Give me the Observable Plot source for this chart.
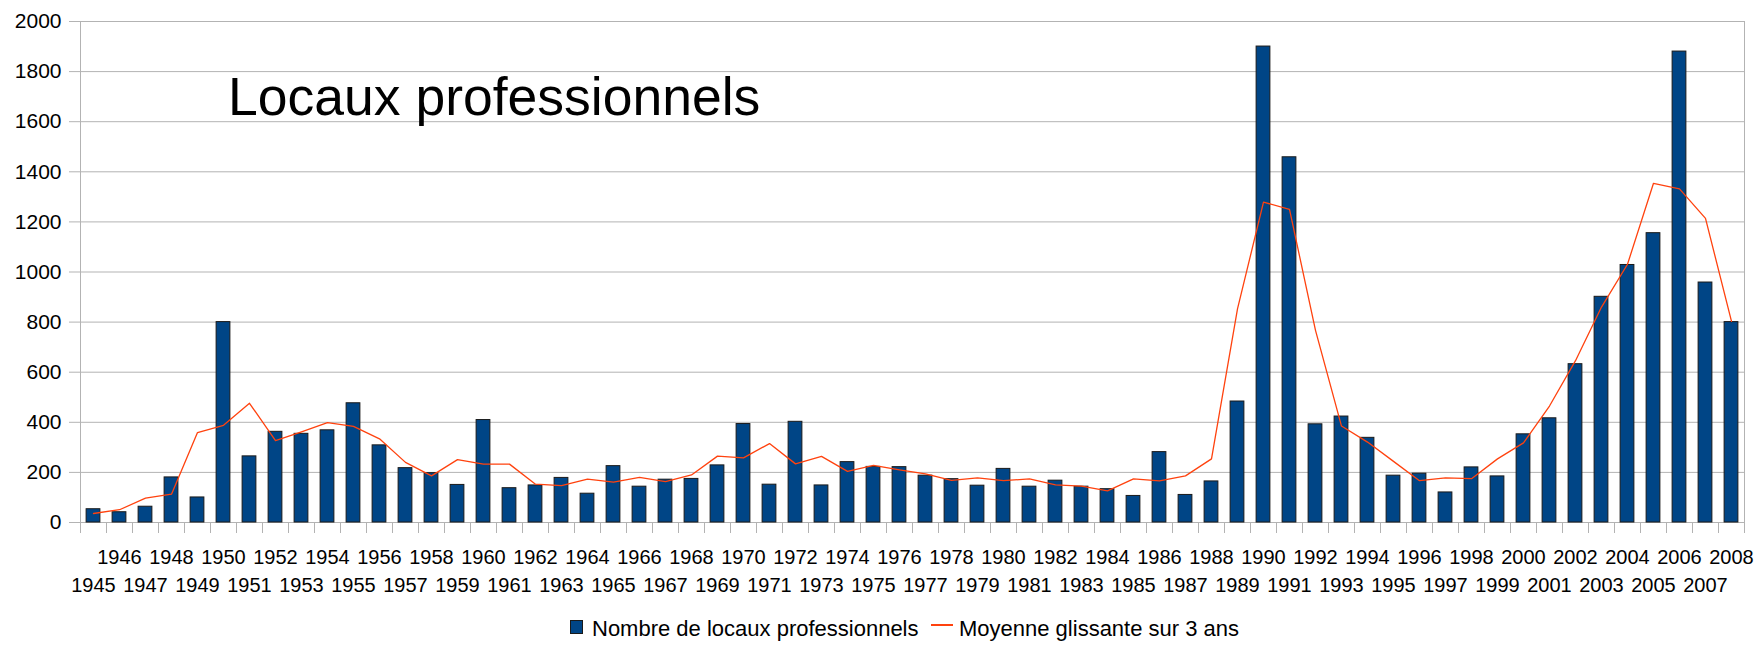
<!DOCTYPE html>
<html>
<head>
<meta charset="utf-8">
<script src="https://cdn.jsdelivr.net/npm/d3@7"></script>
<script src="https://cdn.jsdelivr.net/npm/@observablehq/plot@0.6"></script>
<style>
  html, body { margin: 0; padding: 0; background: #fff; }
  body { width: 1758px; height: 645px; position: relative; overflow: hidden; font-family: "Liberation Sans", Arial, sans-serif; }
  #chart { position: absolute; left: 0; top: 0; }
  #title { position: absolute; left: 228px; top: 70px; font-size: 53.5px; line-height: 53.5px; color: #000; white-space: nowrap; }
  #legend { position: absolute; left: 0; top: 605px; width: 1758px; height: 40px; }
  .lg { position: absolute; font-size: 22px; line-height: 22px; color: #000; white-space: nowrap; }
  .sw-bar { position: absolute; width: 11px; height: 12px; background: #004586; border: 1px solid #1a1a1a; }
  .sw-line { position: absolute; height: 2px; background: #ff420e; }
</style>
</head>
<body>
<div id="chart"></div>
<div id="title">Locaux professionnels</div>
<div id="legend">
  <div class="sw-bar" style="left:570px; top:15px;"></div>
  <div class="lg" style="left:592px; top:13px;">Nombre de locaux professionnels</div>
  <div class="sw-line" style="left:931px; top:19px; width:22px;"></div>
  <div class="lg" style="left:959px; top:13px;">Moyenne glissante sur 3 ans</div>
</div>
<script>
const years = [1945,1946,1947,1948,1949,1950,1951,1952,1953,1954,1955,1956,1957,1958,1959,
  1960,1961,1962,1963,1964,1965,1966,1967,1968,1969,1970,1971,1972,1973,1974,1975,1976,
  1977,1978,1979,1980,1981,1982,1983,1984,1985,1986,1987,1988,1989,1990,1991,1992,1993,
  1994,1995,1996,1997,1998,1999,2000,2001,2002,2003,2004,2005,2006,2007,2008];

const counts = [53,41,63,180,100,800,264,362,354,368,476,308,217,197,150,
  409,137,148,178,115,225,143,171,174,228,393,151,402,148,241,222,221,
  187,173,147,214,143,167,143,133,106,281,110,164,483,1900,1458,392,423,
  338,187,195,120,220,184,352,416,632,901,1028,1155,1880,958,800];

const movingAvg = [36,51,97,113,359,388,476,327,362,399,384,334,240,186,251,
  233,233,153,147,173,161,180,163,190,265,258,315,234,264,204,228,210,
  194,168,178,167,174,150,145,126,174,166,186,254,853,1279,1250,767,385,
  321,244,167,178,175,254,318,465,646,860,1031,1354,1332,1214,803];

const yTicks = [0,200,400,600,800,1000,1200,1400,1600,1800,2000];

const data = years.map((y, i) => ({year: y, count: counts[i], avg: movingAvg[i]}));
const edges = years.map(y => y - 0.5).concat([years[years.length - 1] + 0.5]);
const evenYears = years.filter(y => y % 2 === 0);
const oddYears = years.filter(y => y % 2 === 1);
const halfBar = 0.265;

const chart = Plot.plot({
  width: 1758,
  height: 605,
  marginTop: 21,
  marginBottom: 83,
  marginLeft: 80,
  marginRight: 14,
  style: {fontFamily: "'Liberation Sans', Arial, sans-serif", fontSize: "20px", color: "#000", background: "#fff"},
  x: {domain: [edges[0], edges[edges.length - 1]]},
  y: {domain: [0, 2000]},
  marks: [
    Plot.gridY(yTicks, {stroke: "#b3b3b3", strokeOpacity: 1, strokeWidth: 1}),
    Plot.axisY(yTicks, {tickSize: 11, tickPadding: 8, stroke: "#b3b3b3", fill: "#000", fontSize: 21, tickFormat: d => String(d), label: null}),
    Plot.axisX(edges, {tickSize: 11, stroke: "#b3b3b3", tickFormat: () => "", label: null}),
    Plot.axisX(evenYears, {tickSize: 0, tickPadding: 27, fill: "#000", fontSize: 20, tickFormat: d => String(d), label: null}),
    Plot.axisX(oddYears, {tickSize: 0, tickPadding: 55.5, fill: "#000", fontSize: 20, tickFormat: d => String(d), label: null}),
    Plot.ruleX([edges[0], edges[edges.length - 1]], {stroke: "#b3b3b3", strokeWidth: 1}),
    Plot.ruleY([0], {stroke: "#b3b3b3", strokeWidth: 1}),
    Plot.rect(data, {x1: d => d.year - halfBar, x2: d => d.year + halfBar, y1: 0, y2: "count", fill: "#004586", stroke: "#1a1a1a", strokeWidth: 1}),
    Plot.lineY(data, {x: "year", y: "avg", stroke: "#ff420e", strokeWidth: 1.3})
  ]
});
document.getElementById("chart").appendChild(chart);
</script>
</body>
</html>
